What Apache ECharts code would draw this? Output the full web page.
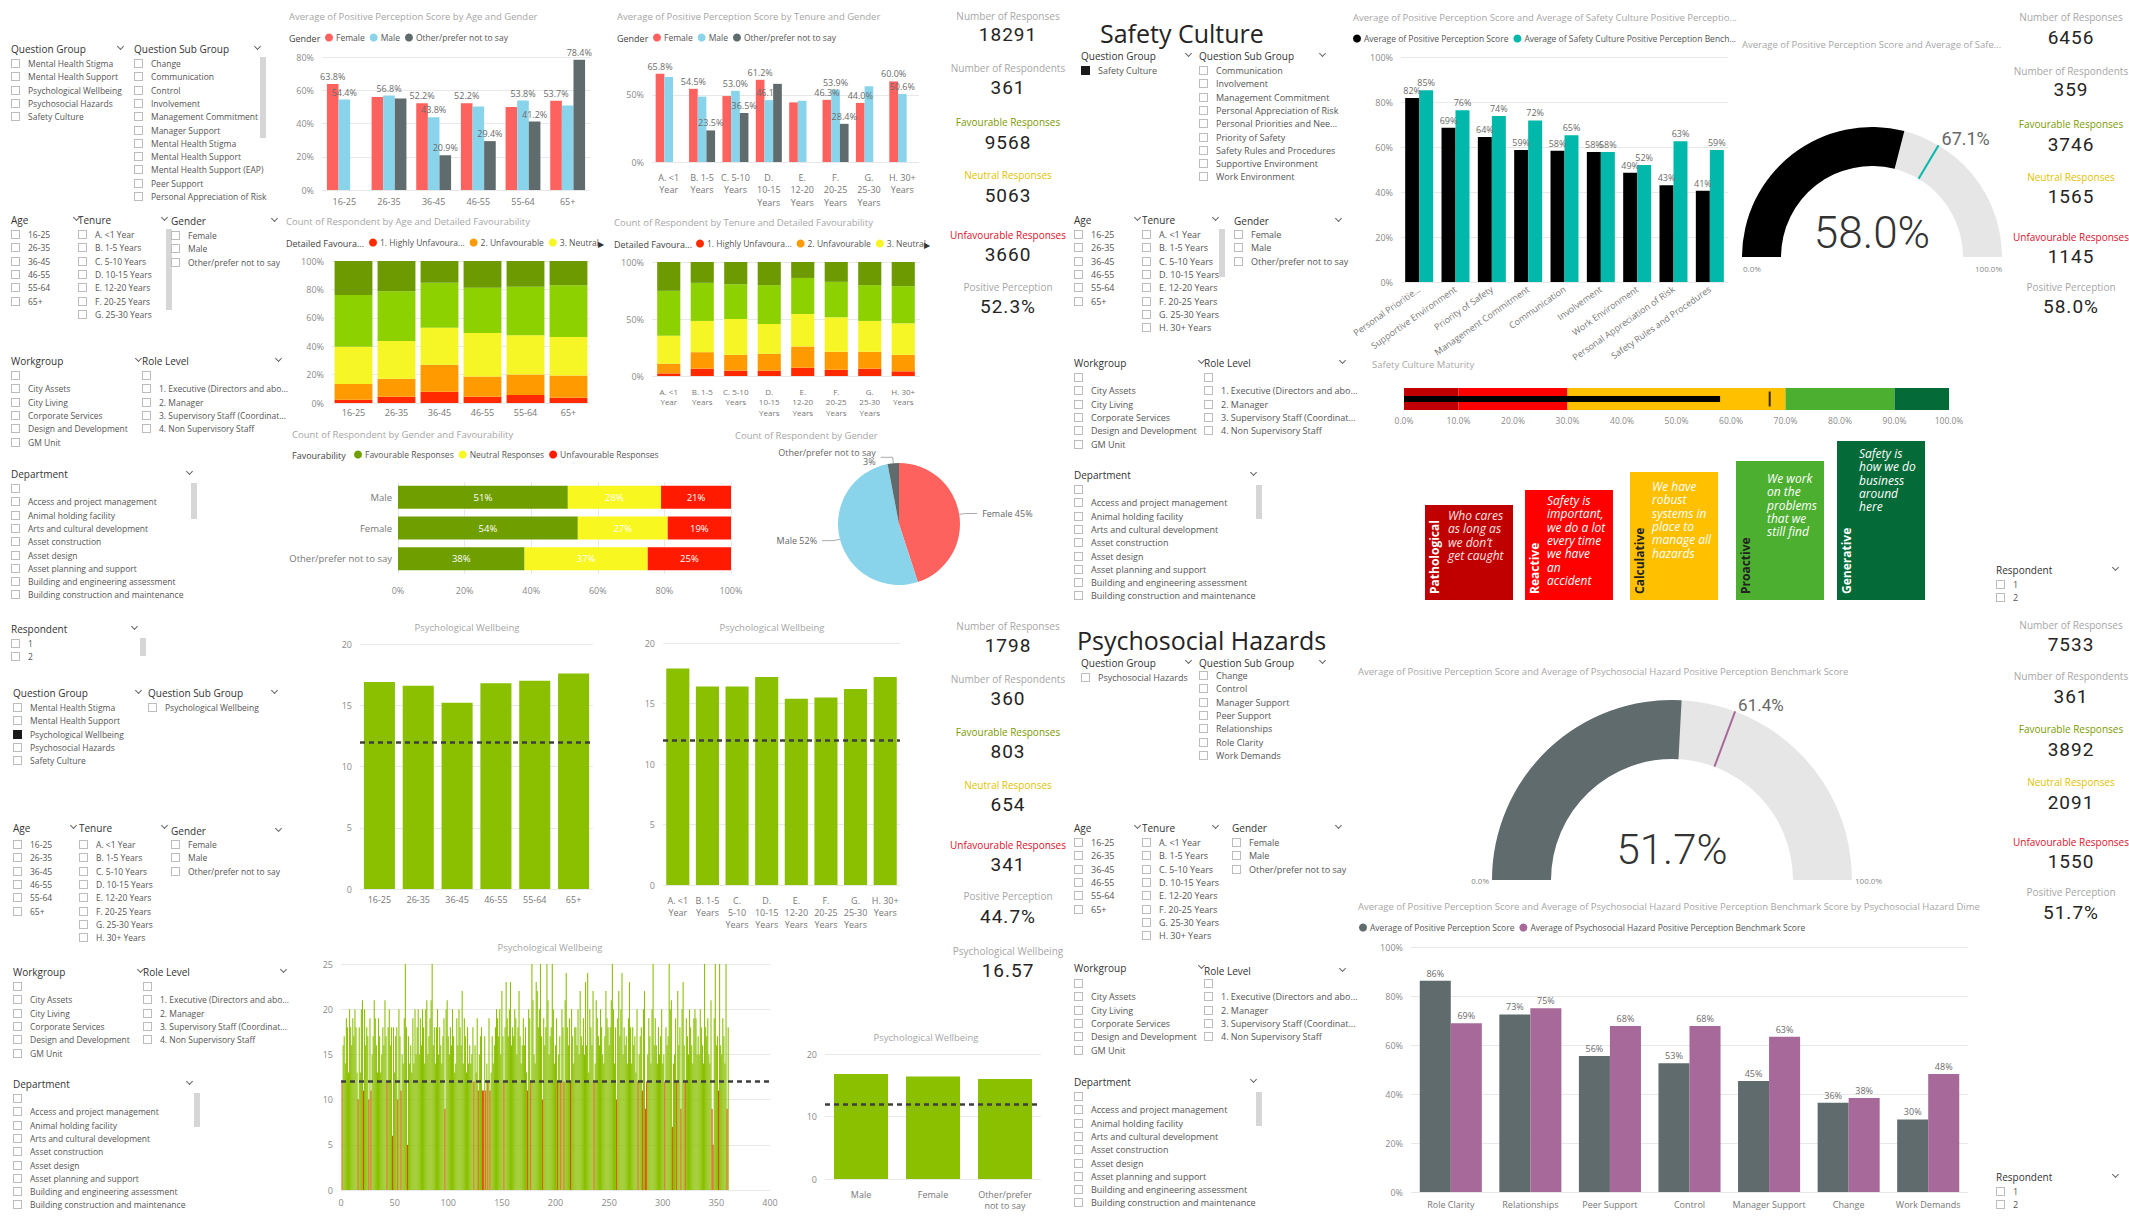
<!DOCTYPE html>
<html><head><meta charset="utf-8">
<script src="https://cdn.jsdelivr.net/npm/echarts@6/dist/echarts.min.js"></script>
<style>
html,body{margin:0;padding:0;background:#fff;width:2129px;height:1217px;overflow:hidden;font-family:'Open Sans','Noto Sans',sans-serif;}
#chart{position:absolute;left:0;top:0;width:2129px;height:1217px;}
#overlay{position:absolute;left:0;top:0;width:2129px;height:1217px;pointer-events:none;}
.t{position:absolute;white-space:nowrap;}
.hdr{font-size:10px;line-height:16px;color:#333;}
.itm{font-size:9px;line-height:14px;color:#555;}
.sm .itm,.itm.sm{font-size:8.5px;}
.box{position:absolute;width:9px;height:9px;border:1px solid #bcbcbc;box-sizing:border-box;background:#fff;}
.box.on{background:#1a1a1a;border-color:#1a1a1a;}
.chev{position:absolute;width:4px;height:4px;border-right:1px solid #666;border-bottom:1px solid #666;transform:rotate(45deg);}
.scroll{position:absolute;width:6px;background:#d6d6d6;}
.kl{position:absolute;font-size:10px;line-height:14px;transform:translateX(-50%);white-space:nowrap;}
.kv{position:absolute;font-size:19px;line-height:24px;color:#252423;transform:translateX(-50%);white-space:nowrap;font-family:Roboto,'DejaVu Sans',sans-serif;letter-spacing:1px;}
.big{position:absolute;font-size:25px;line-height:30px;color:#252423;white-space:nowrap;font-family:'Open Sans',sans-serif;}
</style></head><body>
<div id="chart"></div><div id="overlay"></div>
<script>
// ---------------- DATA ----------------
const ageCats = ['16-25','26-35','36-45','46-55','55-64','65+'];
const tenureCats = ['A. <1 Year','B. 1-5 Years','C. 5-10 Years','D. 10-15 Years','E. 12-20 Years','F. 20-25 Years','G. 25-30 Years','H. 30+ Years'];
const genderNames = ['Female','Male','Other/prefer not to say'];

const ageFemale = [63.8,55.9,52.2,52.2,49.9,53.7];
const ageMale   = [54.4,56.8,43.8,50.3,53.8,50.8];
const ageOther  = [null,55.0,20.9,29.4,41.2,78.4];

const tenFemale = [65.8,54.5,49.1,61.2,44.4,46.3,44.0,60.0];
const tenMale   = [63.3,48.7,53.0,46.1,45.6,53.9,56.4,50.6];
const tenOther  = [null,23.5,36.5,58.2,null,28.4,null,null];

const favLevels = ['1. Highly Unfavourable','2. Unfavourable','3. Neutral','4. Favourable','5. Highly Favourable'];
const ageHU = [2.3,4.4,8.0,4.4,5.6,3.7];
const ageU  = [11.0,12.6,18.9,14.3,14.5,15.7];
const ageN  = [26.4,26.7,26.1,30.6,27.6,27.1];
const ageF  = [36.3,35.0,31.6,31.8,34.1,36.4];
const ageHF = [24.0,21.3,15.4,18.9,18.2,17.1];

const tenHU = [2.3,6.4,4.7,4.7,7.3,5.5,6.4,4.1];
const tenU  = [8.5,14.5,13.9,14.8,18.6,15.7,14.8,14.5];
const tenN  = [24.4,27.4,31.4,26.1,28.5,30.3,27.1,27.6];
const tenF  = [39.5,33.4,30.5,34.1,31.6,31.1,31.4,32.6];
const tenHF = [25.3,18.3,19.5,20.3,14.0,17.4,20.3,21.2];

const gfCats = ['Male','Female','Other/prefer not to say'];
const gfNames = ['Favourable Responses','Neutral Responses','Unfavourable Responses'];
const gfFav = [51,54,38];
const gfNeu = [28,27,37];
const gfUnf = [21,19,25];

const genderShare = [45,52,3];

const scCats = ['Personal Priorities and Need for Safety','Supportive Environment','Priority of Safety','Management Commitment','Communication','Involvement','Work Environment','Personal Appreciation of Risk','Safety Rules and Procedures'];
const scScore = [81.8,68.6,64.4,58.7,58.3,57.8,48.6,43.0,40.6];
const scBench = [85.2,76.3,73.8,71.8,65.2,57.8,52.0,62.6,58.7];
const scGaugeValue = 58.0;
const scTarget = 67.1;

const maturityEdges = [0,10,30,70,90,100];
const maturityStages = ['Pathological','Reactive','Calculative','Proactive','Generative'];
const maturityTexts = ["Who cares\nas long as\nwe don\u2019t\nget caught","Safety is\nimportant,\nwe do a lot\nevery time\nwe have\nan\naccident","We have\nrobust\nsystems in\nplace to\nmanage all\nhazards","We work\non the\nproblems\nthat we\nstill find","Safety is\nhow we do\nbusiness\naround\nhere"];

const phCats = ['Role Clarity','Relationships','Peer Support','Control','Manager Support','Change','Work Demands'];
const phScore = [86.2,72.5,55.5,52.6,45.3,36.4,29.6];
const phBench = [68.9,75.0,67.8,67.8,63.4,38.4,48.2];
const phGaugeValue = 51.7;
const phTarget = 61.4;

const pwAge = [16.9,16.6,15.2,16.8,17.0,17.6];
const pwTenure = [17.9,16.4,16.4,17.2,15.4,15.5,16.2,17.2];
const pwGenderCats = ['Male','Female','Other/prefer not to say'];
const pwGender = [16.8,16.4,16.0];
const pwBenchmark = 12;

const respondentScores = [
12,16,17,14,19,18,13,20,18,16, 19,17,20,18,13,10,18,13,20,21,
11,20,16,18,17,10,19,11,15,17, 21,19,16,13,19,17,13,15,18,16,
21,17,12,18,20,16,18,6,18,13, 17,18,10,20,17,11,15,14,19,25,
18,5,17,14,16,13,19,14,20,15, 18,20,15,19,16,20,18,14,20,21,
15,17,19,21,25,16,18,14,18,20, 15,18,16,14,17,19,9,20,21,17,
15,18,16,20,17,13,14,19,16,20, 18,16,22,14,19,17,13,18,14,16,
14,15,18,12,16,13,19,11,15,17, 18,11,11,17,11,14,12,19,11,13,
17,14,16,18,20,19,17,20,15,22, 17,12,18,23,19,17,20,23,16,18,
17,20,19,15,18,22,17,14,16,19, 16,18,13,11,20,19,12,25,21,15,
14,23,22,18,20,25,17,10,19,16, 18,25,21,15,17,18,25,20,14,16,
19,12,15,17,12,20,18,12,21,24, 18,16,19,12,20,17,14,18,18,16,
20,15,22,17,16,19,15,23,16,24, 13,20,18,16,22,12,14,21,19,17,
16,20,18,15,14,17,22,19,18,16, 18,21,25,20,14,18,10,19,22,17,
20,24,15,18,16,17,14,19,23,18, 14,18,16,17,13,20,12,15,17,18,
11,20,22,9,12,15,19,17,14,20, 25,16,19,16,14,18,15,17,20,14,
15,12,18,16,17,25,20,21,7,14, 15,19,12,22,16,18,9,20,23,16,
12,19,17,15,20,18,16,14,19,20, 19,15,17,15,20,18,16,14,25,18,
17,19,15,14,21,9,5,19,25,16, 17,11,25,16,15,19,17,14,25,9,18
];

const qGroupItems = ['Mental Health Stigma','Mental Health Support','Psychological Wellbeing','Psychosocial Hazards','Safety Culture'];
const qSubItems = ['Change','Communication','Control','Involvement','Management Commitment','Manager Support','Mental Health Stigma','Mental Health Support','Mental Health Support (EAP)','Peer Support','Personal Appreciation of Risk'];
const scSubItems = ['Communication','Involvement','Management Commitment','Personal Appreciation of Risk','Personal Priorities and Nee...','Priority of Safety','Safety Rules and Procedures','Supportive Environment','Work Environment'];
const phSubItems = ['Change','Control','Manager Support','Peer Support','Relationships','Role Clarity','Work Demands'];
const workgroupItems = ['','City Assets','City Living','Corporate Services','Design and Development','GM Unit'];
const roleItems = ['','1. Executive (Directors and abo...','2. Manager','3. Supervisory Staff (Coordinat...','4. Non Supervisory Staff'];
const deptItems = ['','Access and project management','Animal holding facility','Arts and cultural development','Asset construction','Asset design','Asset planning and support','Building and engineering assessment','Building construction and maintenance'];
const respondentItems = ['1','2'];

const kpiLabels = ['Number of Responses','Number of Respondents','Favourable Responses','Neutral Responses','Unfavourable Responses','Positive Perception'];
const kpiOverall = ['18291','361','9568','5063','3660','52.3%'];
const kpiSafety = ['6456','359','3746','1565','1145','58.0%'];
const kpiWellbeing = ['1798','360','803','654','341','44.7%','16.57'];
const kpiPsychosocial = ['7533','361','3892','2091','1550','51.7%'];

// ---------------- STYLE ----------------
const FONT = "'Open Sans','Noto Sans',sans-serif";
const C_F = '#FD625E', C_M = '#8AD4EB', C_O = '#5F6B6D';
const genderColors = [C_F, C_M, C_O];
const favColors = ['#FF2A00','#FF9A00','#F6F626','#8ED100','#6C9A00'];
const gfColors = ['#6F9E00','#F8F820','#FF1A00'];
const maturityColors = ['#C00000','#FF0000','#FFC000','#4DAF30','#046B38'];
const PW_GREEN = '#8AC000', PW_RED = '#E8470C';
const kpiColors = ['#a6a6a6','#a6a6a6','#7A9A01','#E3BF00','#E0102A','#a6a6a6'];

function wrap(s, n) {
  const w = s.split(' '); const lines = []; let cur = '';
  w.forEach(t => { if (!cur) cur = t; else if ((cur + ' ' + t).length <= n) cur += ' ' + t; else { lines.push(cur); cur = t; } });
  if (cur) lines.push(cur);
  return lines.join('\n');
}
const pct = v => v + '%';

// ---------------- LAYOUT ----------------
const grids = [
  {left:322, top:57, width:268, height:133},   // 0 age & gender
  {left:652, top:68, width:267, height:94},    // 1 tenure & gender
  {left:332, top:261, width:258, height:142},  // 2 age stacked
  {left:652, top:262, width:268, height:114},  // 3 tenure stacked
  {left:398, top:482, width:333, height:92},   // 4 gender favourability
  {left:1401, top:57, width:327, height:225},  // 5 safety culture bars
  {left:1404, top:388, width:545, height:22},  // 6 maturity bullet
  {left:360, top:644, width:233, height:245},  // 7 wellbeing age
  {left:663, top:643, width:237, height:242},  // 8 wellbeing tenure
  {left:341, top:964, width:429, height:226},  // 9 wellbeing respondent
  {left:825, top:1054, width:216, height:125}, // 10 wellbeing gender
  {left:1411, top:947, width:557, height:245}  // 11 psychosocial bars
];

function cat(gi, data, lbl, extra) {
  return Object.assign({type:'category', gridIndex:gi, data, axisLine:{show:false}, axisTick:{show:false}, splitLine:{show:false},
    axisLabel:Object.assign({fontSize:9, color:'#777', fontFamily:FONT, interval:0, margin:6}, lbl||{})}, extra||{});
}
function val(gi, min, max, interval, fmt, lbl, extra) {
  const al = Object.assign({fontSize:9, color:'#8a8a8a', fontFamily:FONT, margin:8}, lbl||{});
  if (fmt) al.formatter = fmt;
  return Object.assign({type:'value', gridIndex:gi, min, max, interval, axisLine:{show:false}, axisTick:{show:false},
    splitLine:{show:true, lineStyle:{color:'#e8e8e8'}}, axisLabel:al}, extra||{});
}

const xAxes = [
  cat(0, ageCats, {margin:7}),
  cat(1, tenureCats, {formatter:s=>wrap(s,7), lineHeight:12.5, margin:9}),
  cat(2, ageCats, {margin:5}),
  cat(3, tenureCats, {formatter:s=>wrap(s,7), lineHeight:10.5, fontSize:8, margin:10}),
  val(4, 0, 100, 20, pct, {margin:12}),
  cat(5, scCats, {rotate:35, fontSize:9, margin:6, formatter:s=> s.length>30 ? s.slice(0,18)+'...' : s}),
  val(6, 0, 100, 10, v=>v.toFixed(1)+'%', {margin:6, fontSize:8.5}, {splitLine:{show:false}}),
  cat(7, ageCats, {margin:6}),
  cat(8, tenureCats, {formatter:s=>wrap(s,6), lineHeight:12, margin:9}),
  val(9, 0, 400, 50, null, {margin:8}, {splitLine:{show:false}}),
  cat(10, pwGenderCats, {formatter:s=>wrap(s,12), lineHeight:11, margin:10}),
  cat(11, phCats, {margin:8, fontSize:9})
];
const yAxes = [
  val(0, 0, 80, 20, pct),
  val(1, 0, 70, 50, pct, {showMaxLabel:false}, {splitLine:{show:true, showMaxLine:false, lineStyle:{color:'#e8e8e8'}}}),
  val(2, 0, 100, 20, pct),
  val(3, 0, 100, 50, pct),
  cat(4, gfCats, {fontSize:9.5, margin:6}, {inverse:true}),
  val(5, 0, 100, 20, pct),
  cat(6, ['Maturity'], {show:false}),
  val(7, 0, 20, 5),
  val(8, 0, 20, 5),
  val(9, 0, 25, 5),
  val(10, 0, 20, 10),
  val(11, 0, 100, 20, pct),
  cat(6, ['Maturity'], {show:false})
];

// ---------------- SERIES ----------------
const S = [];
const barLbl = fmt => ({show:true, position:'top', distance:3, fontSize:9, color:'#6b6b6b', fontFamily:FONT, formatter:p=>fmt(p.value)});

[[ageFemale,0],[ageMale,1],[ageOther,2]].forEach(([d,i]) => S.push({type:'bar', name:genderNames[i], xAxisIndex:0, yAxisIndex:0, data:d,
  barGap:0, barCategoryGap:'22%', itemStyle:{color:genderColors[i]}, label:barLbl(v=>v.toFixed(1)+'%'), labelLayout:{hideOverlap:true}}));
[[tenFemale,0],[tenMale,1],[tenOther,2]].forEach(([d,i]) => S.push({type:'bar', name:genderNames[i], xAxisIndex:1, yAxisIndex:1, data:d,
  barGap:0, barCategoryGap:'22%', itemStyle:{color:genderColors[i]}, label:barLbl(v=>v.toFixed(1)+'%'), labelLayout:{hideOverlap:true}}));

[ageHU,ageU,ageN,ageF,ageHF].forEach((d,i) => S.push({type:'bar', name:favLevels[i], stack:'age', xAxisIndex:2, yAxisIndex:2, data:d,
  barCategoryGap:'12%', itemStyle:{color:favColors[i]}}));
[tenHU,tenU,tenN,tenF,tenHF].forEach((d,i) => S.push({type:'bar', name:favLevels[i], stack:'ten', xAxisIndex:3, yAxisIndex:3, data:d,
  barCategoryGap:'31%', itemStyle:{color:favColors[i]}}));

[gfFav,gfNeu,gfUnf].forEach((d,i) => S.push({type:'bar', name:gfNames[i], stack:'gf', xAxisIndex:4, yAxisIndex:4, data:d,
  barCategoryGap:'25%', itemStyle:{color:gfColors[i]},
  label:{show:true, position:'inside', color:'#fff', fontSize:9.5, fontFamily:FONT, formatter:p=>p.value+'%'}}));

S.push({type:'pie', center:[899,524], radius:61, startAngle:90, clockwise:true,
  data:genderNames.map((n,i)=>({name:n, value:genderShare[i], itemStyle:{color:genderColors[i]}})),
  label:{fontSize:9, color:'#666', fontFamily:FONT, formatter:p=> p.name.length>10 ? p.name+'\n'+p.value+'%' : p.name+' '+p.value+'%'},
  labelLine:{length:6, length2:12, lineStyle:{color:'#aaa'}}});

S.push({type:'bar', name:'Average of Positive Perception Score', xAxisIndex:5, yAxisIndex:5, data:scScore, barGap:0, barCategoryGap:'23%',
  itemStyle:{color:'#000'}, label:barLbl(v=>Math.round(v)+'%')});
S.push({type:'bar', name:'Average of Safety Culture Positive Perception Benchmark Score', xAxisIndex:5, yAxisIndex:5, data:scBench, barGap:0, barCategoryGap:'23%',
  itemStyle:{color:'#01B8AA'}, label:barLbl(v=>Math.round(v)+'%')});

maturityStages.forEach((n,i) => S.push({type:'bar', name:n, stack:'band', xAxisIndex:6, yAxisIndex:6,
  data:[maturityEdges[i+1]-maturityEdges[i]], barWidth:'100%', itemStyle:{color:maturityColors[i]}, silent:true}));
S.push({type:'bar', name:'Positive Perception', xAxisIndex:6, yAxisIndex:12, data:[scGaugeValue], barWidth:6, itemStyle:{color:'#000'}});
S.push({type:'scatter', name:'Benchmark', xAxisIndex:6, yAxisIndex:12, data:[[scTarget,0]], symbol:'rect', symbolSize:[2,15], itemStyle:{color:'#000'}});

const pwMark = {silent:true, symbol:'none', label:{show:false}, lineStyle:{color:'#3f3f3f', type:[5,4], width:2.5}, data:[{yAxis:pwBenchmark}]};
S.push({type:'bar', xAxisIndex:7, yAxisIndex:7, data:pwAge, barCategoryGap:'20%', itemStyle:{color:PW_GREEN}, markLine:pwMark});
S.push({type:'bar', xAxisIndex:8, yAxisIndex:8, data:pwTenure, barCategoryGap:'22%', itemStyle:{color:PW_GREEN}, markLine:pwMark});
S.push({type:'bar', xAxisIndex:9, yAxisIndex:9, data:respondentScores.map((v,i)=>[i+1,v]), barWidth:'100%',
  itemStyle:{color:p=> p.value[1] <= pwBenchmark ? PW_RED : PW_GREEN}, markLine:pwMark});
S.push({type:'bar', xAxisIndex:10, yAxisIndex:10, data:pwGender, barCategoryGap:'25%', itemStyle:{color:PW_GREEN}, markLine:pwMark});

S.push({type:'bar', name:'Average of Positive Perception Score', xAxisIndex:11, yAxisIndex:11, data:phScore, barGap:0, barCategoryGap:'22%',
  itemStyle:{color:'#5F6B6D'}, label:barLbl(v=>Math.round(v)+'%')});
S.push({type:'bar', name:'Average of Psychosocial Hazard Positive Perception Benchmark Score', xAxisIndex:11, yAxisIndex:11, data:phBench, barGap:0, barCategoryGap:'22%',
  itemStyle:{color:'#A66999'}, label:barLbl(v=>Math.round(v)+'%')});

// gauges
const scG = {cx:1872, cy:257, r:130, w:39};
const phG = {cx:1672, cy:880, r:180, w:59};
function gauge(g, value, target, fill, tcolor, fontSize, dy) {
  const common = {type:'gauge', center:[g.cx,g.cy], radius:g.r, startAngle:180, endAngle:0, min:0, max:100,
    anchor:{show:false}, axisTick:{show:false}, splitLine:{show:false}, axisLabel:{show:false}, title:{show:false}};
  S.push(Object.assign({}, common, {
    axisLine:{show:true, lineStyle:{width:g.w, color:[[1,'#E6E6E6']]}},
    progress:{show:true, width:g.w, itemStyle:{color:fill}},
    pointer:{show:false},
    detail:{show:true, offsetCenter:[0,dy], formatter:v=>v.toFixed(1)+'%', fontSize, color:'#333', fontFamily:'Roboto, sans-serif', fontWeight:300},
    data:[{value}]}));
  S.push(Object.assign({}, common, {
    axisLine:{show:false}, progress:{show:false}, detail:{show:false},
    pointer:{show:true, icon:'rect', length:g.w, width:2, offsetCenter:[0,-(g.r-g.w)], itemStyle:{color:tcolor}},
    data:[{value:target}]}));
}
gauge(scG, scGaugeValue, scTarget, '#000000', '#01B8AA', 44, -24);
gauge(phG, phGaugeValue, phTarget, '#5F6B6D', '#A66999', 42, -31);

// ---------------- LEGENDS ----------------
const legBase = {icon:'circle', itemWidth:8, itemHeight:8, itemGap:5, selectedMode:false, padding:0,
  textStyle:{fontSize:8.5, color:'#555', fontFamily:FONT, padding:[0,0,0,-2]}};
const trunc = {'1. Highly Unfavourable':'1. Highly Unfavoura...', 'Average of Safety Culture Positive Perception Benchmark Score':'Average of Safety Culture Positive Perception Bench...'};
const legFmt = n => trunc[n] || n;
const legends = [
  Object.assign({}, legBase, {left:325, top:33, data:genderNames}),
  Object.assign({}, legBase, {left:653, top:33, data:genderNames}),
  Object.assign({}, legBase, {left:369, top:238, data:favLevels.slice(0,3), formatter:legFmt}),
  Object.assign({}, legBase, {left:696, top:239, data:favLevels.slice(0,3), formatter:legFmt}),
  Object.assign({}, legBase, {left:354, top:450, data:gfNames}),
  Object.assign({}, legBase, {left:1353, top:34, formatter:legFmt, data:[
    {name:'Average of Positive Perception Score', itemStyle:{color:'#000'}},
    {name:'Average of Safety Culture Positive Perception Benchmark Score', itemStyle:{color:'#01B8AA'}}]}),
  Object.assign({}, legBase, {left:1359, top:923, data:[
    {name:'Average of Positive Perception Score', itemStyle:{color:'#5F6B6D'}},
    {name:'Average of Psychosocial Hazard Positive Perception Benchmark Score', itemStyle:{color:'#A66999'}}]})
];

// ---------------- GRAPHIC (titles, labels, maturity boxes) ----------------
const G = [];
function gtext(x, y, text, st, el) {
  const style = Object.assign({text, fill:'#a6a6a6', fontSize:9.5, fontFamily:FONT, align:'left', verticalAlign:'middle', textAlign:'left', textVerticalAlign:'middle'}, st||{});
  if (st && st.align) style.textAlign = st.align;
  if (st && st.verticalAlign) style.textVerticalAlign = st.verticalAlign;
  G.push(Object.assign({type:'text', x, y, silent:true, z:10, style}, el||{}));
}
gtext(289,16,'Average of Positive Perception Score by Age and Gender');
gtext(617,16,'Average of Positive Perception Score by Tenure and Gender');
gtext(286,221,'Count of Respondent by Age and Detailed Favourability');
gtext(614,222,'Count of Respondent by Tenure and Detailed Favourability');
gtext(292,434,'Count of Respondent by Gender and Favourability');
gtext(735,435,'Count of Respondent by Gender');
gtext(1353,17,'Average of Positive Perception Score and Average of Safety Culture Positive Perceptio...');
gtext(1742,44,'Average of Positive Perception Score and Average of Safe...');
gtext(1372,364,'Safety Culture Maturity');
gtext(1358,671,'Average of Positive Perception Score and Average of Psychosocial Hazard Positive Perception Benchmark Score');
gtext(1358,906,'Average of Positive Perception Score and Average of Psychosocial Hazard Positive Perception Benchmark Score by Psychosocial Hazard Dimension', {width:625, overflow:'truncate', ellipsis:''});
gtext(467,627,'Psychological Wellbeing',{align:'center'});
gtext(772,627,'Psychological Wellbeing',{align:'center'});
gtext(550,947,'Psychological Wellbeing',{align:'center'});
gtext(926,1037,'Psychological Wellbeing',{align:'center'});
// legend titles
const lt = {fill:'#444', fontSize:9};
gtext(289,38,'Gender',lt); gtext(617,38,'Gender',lt);
gtext(286,243,'Detailed Favoura...',lt); gtext(614,244,'Detailed Favoura...',lt);
gtext(598,243,'\u25B6',{fill:'#333', fontSize:8}); gtext(924,244,'\u25B6',{fill:'#333', fontSize:8});
gtext(292,455,'Favourability',lt);

// gauge labels derived from gauge geometry
function targetLabel(g, t, fs) {
  const a = Math.PI * (1 - t / 100);
  gtext(g.cx + g.r*Math.cos(a) + 3, g.cy - g.r*Math.sin(a) + 2, t.toFixed(1)+'%', {fill:'#666', fontSize:fs, fontFamily:'Roboto, sans-serif', verticalAlign:'bottom'});
}
targetLabel(scG, scTarget, 18);
targetLabel(phG, phTarget, 17);
gtext(scG.cx - scG.r + 1, scG.cy + 11, '0.0%', {fill:'#888', fontSize:8});
gtext(scG.cx + scG.r, scG.cy + 11, '100.0%', {fill:'#888', fontSize:8, align:'right'});
gtext(phG.cx - phG.r - 3, phG.cy, '0.0%', {fill:'#888', fontSize:8, align:'right'});
gtext(phG.cx + phG.r + 3, phG.cy, '100.0%', {fill:'#888', fontSize:8});

// maturity boxes
const boxX = [1425,1525,1630,1736,1837], boxTop = [505,490,472,461,441], boxBottom = 600, boxW = 88;
const textDX = [23,22,22,31,22], textDY = [4,4,8,11,6];
const stageLabelColor = ['#fff','#fff','#222','#222','#fff'];
const stageTextColor = ['#FFE3E3','#fff','#fff','#fff','#fff'];
maturityStages.forEach((n,i) => {
  G.push({type:'rect', silent:true, shape:{x:boxX[i], y:boxTop[i], width:boxW, height:boxBottom-boxTop[i]}, style:{fill:maturityColors[i]}});
  gtext(boxX[i]+9, boxBottom-6, n, {fill:stageLabelColor[i], fontSize:12, fontWeight:'bold', fontFamily:"'Open Sans',sans-serif"}, {rotation:Math.PI/2});
  gtext(boxX[i]+textDX[i], boxTop[i]+textDY[i], maturityTexts[i], {fill:stageTextColor[i], fontSize:12, fontStyle:'italic', lineHeight:13.3, verticalAlign:'top', fontFamily:"'Open Sans',sans-serif"});
});

// ---------------- CHART ----------------
const chart = echarts.init(document.getElementById('chart'), null, {renderer:'svg', width:2129, height:1217});
chart.setOption({
  animation:false,
  textStyle:{fontFamily:FONT},
  grid:grids.map(g=>Object.assign({outerBoundsMode:'none', containLabel:false}, g)),
  xAxis:xAxes, yAxis:yAxes, legend:legends, series:S,
  graphic:{elements:G}
});

// ---------------- HTML: slicers, KPI cards, headings ----------------
let html = '';
const esc = s => String(s).replace(/&/g,'&amp;').replace(/</g,'&lt;');
function slicer(x, y, title, items, o) {
  o = o || {};
  const gap = o.gap || 13.3, y0 = o.y0 != null ? o.y0 : y + 15, tx = o.tx || 17;
  html += `<div class="t hdr" style="left:${x}px;top:${y-8}px">${esc(title)}</div>`;
  if (o.chev != null) html += `<div class="chev" style="left:${o.chev}px;top:${y-5}px"></div>`;
  items.forEach((it,i) => {
    const yy = y0 + i*gap;
    html += `<div class="box${o.checked===i?' on':''}" style="left:${x}px;top:${(yy-5).toFixed(1)}px"></div>`;
    if (it) html += `<div class="t itm${o.sm?' sm':''}" style="left:${x+tx}px;top:${(yy-7).toFixed(1)}px">${esc(it)}</div>`;
  });
  if (o.scroll) html += `<div class="scroll" style="left:${o.scroll[0]}px;top:${o.scroll[1]}px;height:${o.scroll[2]}px"></div>`;
}
function kpi(cx, ys, labels, values, colors) {
  labels.forEach((l,i) => {
    html += `<div class="kl" style="left:${cx}px;top:${ys[i][0]-7}px;color:${colors[i]}">${esc(l)}</div>`;
    html += `<div class="kv" style="left:${cx}px;top:${ys[i][1]-12}px">${esc(values[i])}</div>`;
  });
}
// top-left section
slicer(11,49,'Question Group',qGroupItems,{chev:118, sm:1});
slicer(134,49,'Question Sub Group',qSubItems,{chev:255, sm:1, scroll:[260,57,81]});
slicer(11,220,'Age',ageCats,{chev:74, sm:1});
slicer(78,220,'Tenure',tenureCats.slice(0,7),{chev:162, sm:1, scroll:[166,229,81]});
slicer(171,221,'Gender',genderNames,{chev:272, y0:236, sm:1});
slicer(11,361,'Workgroup',workgroupItems,{chev:136, sm:1});
slicer(142,361,'Role Level',roleItems,{chev:276, y0:376, sm:1});
slicer(11,474,'Department',deptItems,{chev:187, sm:1, scroll:[191,483,36]});
slicer(11,629,'Respondent',respondentItems,{chev:132, sm:1, scroll:[140,638,18]});
// safety culture section
slicer(1081,56,'Question Group',['Safety Culture'],{chev:1186, checked:0});
slicer(1199,56,'Question Sub Group',scSubItems,{chev:1320});
slicer(1074,220,'Age',ageCats,{chev:1135});
slicer(1142,220,'Tenure',tenureCats,{chev:1213, scroll:[1219,229,48]});
slicer(1234,221,'Gender',genderNames,{chev:1336, y0:235});
slicer(1074,363,'Workgroup',workgroupItems,{chev:1199});
slicer(1204,363,'Role Level',roleItems,{chev:1340});
slicer(1074,475,'Department',deptItems,{chev:1251, scroll:[1256,485,34]});
slicer(1996,570,'Respondent',respondentItems,{chev:2113});
// wellbeing section
slicer(13,693,'Question Group',qGroupItems,{chev:136, checked:2, sm:1});
slicer(148,693,'Question Sub Group',['Psychological Wellbeing'],{chev:272, sm:1});
slicer(13,828,'Age',ageCats,{chev:71, y0:845, sm:1});
slicer(79,828,'Tenure',tenureCats,{chev:162, y0:845, sm:1});
slicer(171,831,'Gender',genderNames,{chev:276, y0:845, sm:1});
slicer(13,972,'Workgroup',workgroupItems,{chev:138, sm:1});
slicer(143,972,'Role Level',roleItems,{chev:281, sm:1});
slicer(13,1084,'Department',deptItems,{chev:187, sm:1, scroll:[194,1093,34]});
// psychosocial section
slicer(1081,663,'Question Group',['Psychosocial Hazards'],{chev:1186});
slicer(1199,663,'Question Sub Group',phSubItems,{chev:1320, y0:676});
slicer(1074,828,'Age',ageCats,{chev:1135, y0:843});
slicer(1142,828,'Tenure',tenureCats,{chev:1213, y0:843});
slicer(1232,828,'Gender',genderNames,{chev:1336, y0:843});
slicer(1074,968,'Workgroup',workgroupItems,{chev:1199, y0:984});
slicer(1204,971,'Role Level',roleItems,{chev:1340, y0:984});
slicer(1074,1082,'Department',deptItems,{chev:1251, y0:1097, scroll:[1256,1092,34]});
slicer(1996,1177,'Respondent',respondentItems,{chev:2113});

html += `<div class="big" style="left:1100px;top:18px">Safety Culture</div>`;
html += `<div class="big" style="left:1077px;top:625px">Psychosocial Hazards</div>`;

kpi(1008, [[16,35],[68,88],[122,143],[175,196],[235,255],[287,307]], kpiLabels, kpiOverall, kpiColors);
kpi(2071, [[17,38],[71,90],[124,145],[177,197],[237,257],[287,307]], kpiLabels, kpiSafety, kpiColors);
kpi(1008, [[626,646],[679,699],[732,752],[785,805],[845,865],[896,917],[951,971]], kpiLabels.concat(['Psychological Wellbeing']), kpiWellbeing, kpiColors.concat(['#a6a6a6']));
kpi(2071, [[625,645],[676,697],[729,750],[782,803],[842,862],[892,913]], kpiLabels, kpiPsychosocial, kpiColors);

document.getElementById('overlay').innerHTML = html;
</script></body></html>
